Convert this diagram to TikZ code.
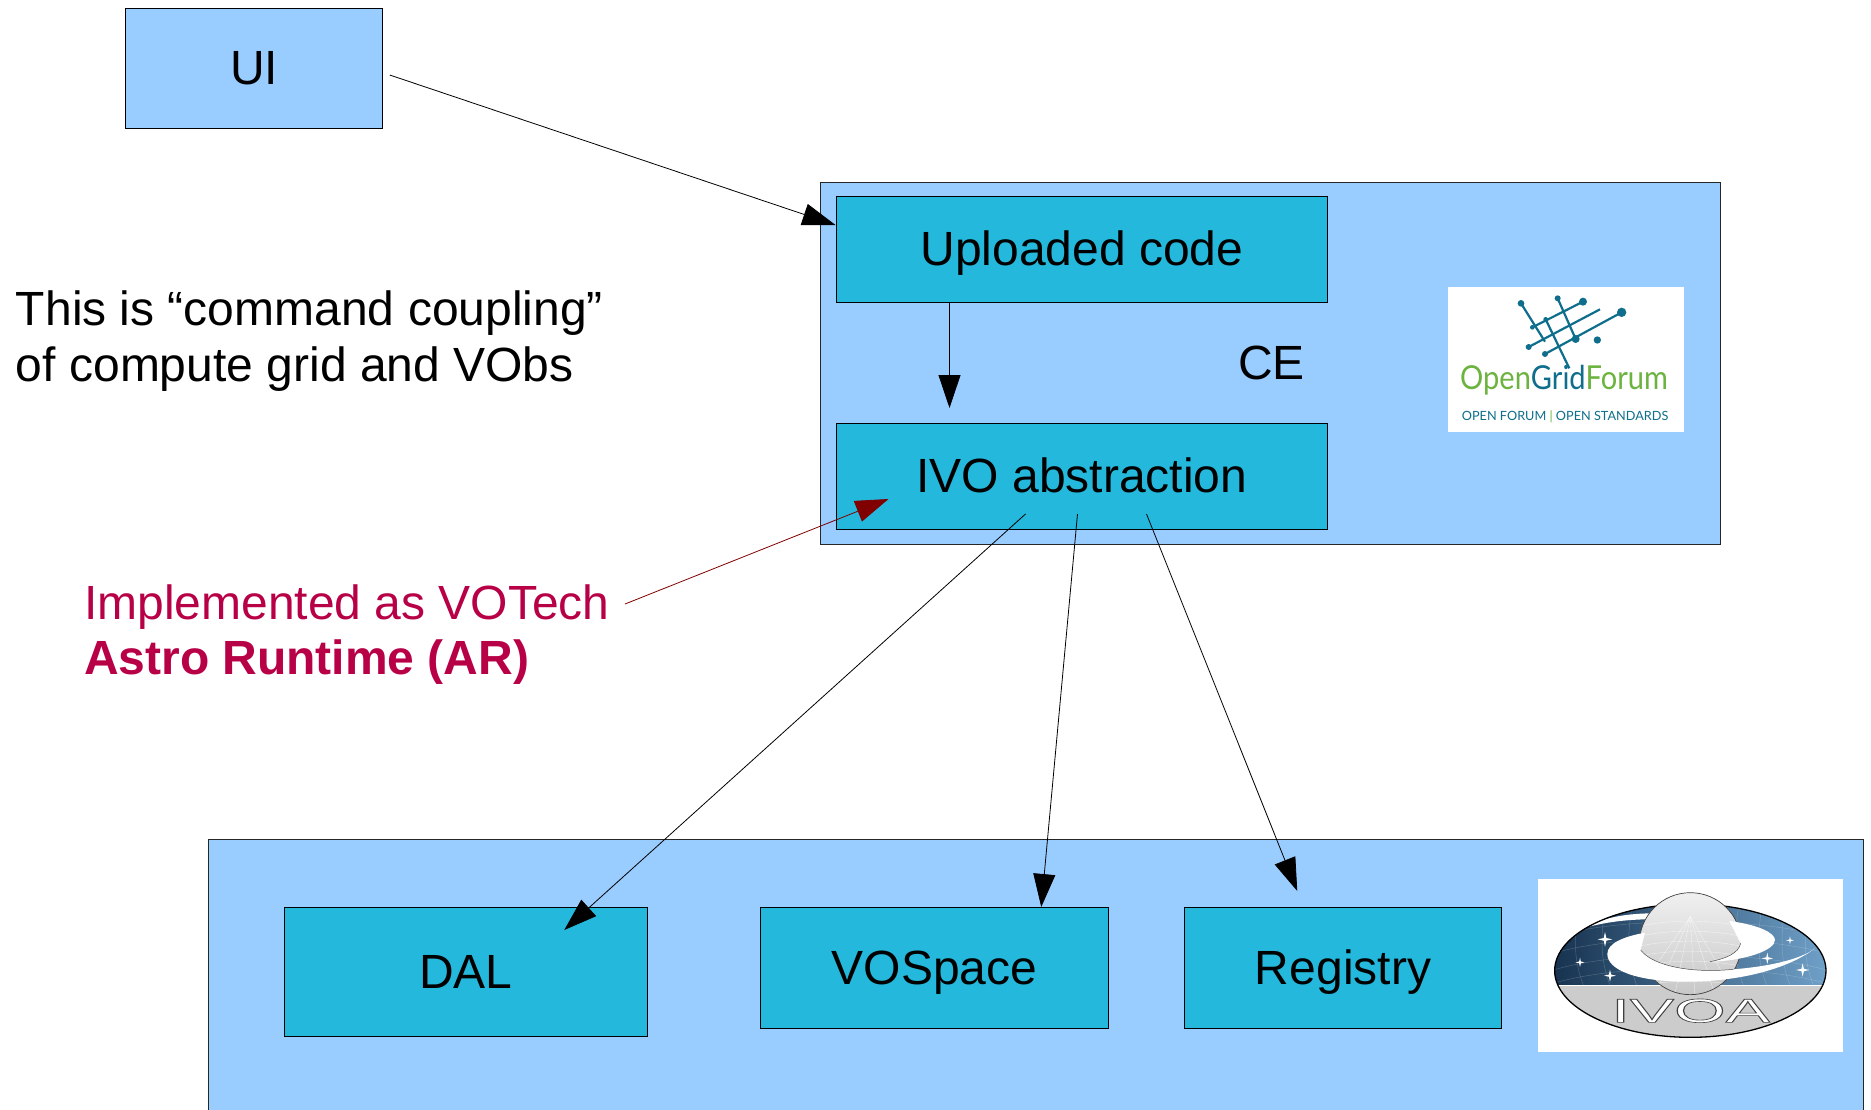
\documentclass[tikz,border=0pt]{standalone}
\usepackage{fontspec}
\setmainfont{Liberation Sans}
\newfontfamily\ogffont{Lato}
\usetikzlibrary{arrows.meta,shadings}
\definecolor{panelblue}{HTML}{99CCFF}
\definecolor{boxblue}{HTML}{23B8DC}
\definecolor{notered}{HTML}{B80047}
\definecolor{ogfgreen}{HTML}{6CB33F}
\definecolor{ogfblue}{HTML}{0F6E8C}
\definecolor{ivoadark}{HTML}{16324F}
\definecolor{ivoalight}{HTML}{6FA0C8}
\newcommand{\bigtext}{\fontsize{48}{55.5}\selectfont}
\tikzset{
  panel/.style={draw=black!85,line width=1pt,fill=panelblue,inner sep=0pt,outer sep=0pt},
  inbox/.style={draw=black,line width=1pt,fill=boxblue,inner sep=0pt,outer sep=0pt,
    font=\bigtext,text height=33pt,text depth=0pt},
  label/.style={font=\bigtext,inner sep=0pt,outer sep=0pt,anchor=base west,align=left},
  flow/.style={line width=.8pt,draw=black,-{Triangle[length=33pt,width=22pt]}},
  redflow/.style={line width=.8pt,draw=black!50!red,-{Triangle[length=33pt,width=22pt]}},
  ogfline/.style={draw=ogfblue,line width=2.2pt},
}
\newcommand{\fourstar}[3]{\fill[white] ({#1-#3},#2) -- ({#1-#3*.18},{#2-#3*.18}) -- (#1,{#2-#3}) -- ({#1+#3*.18},{#2-#3*.18}) -- ({#1+#3},#2) -- ({#1+#3*.18},{#2+#3*.18}) -- (#1,{#2+#3}) -- ({#1-#3*.18},{#2+#3*.18}) -- cycle;}
\begin{document}
\begin{tikzpicture}[x=1pt,y=-1pt]
\useasboundingbox (0,0) rectangle (1871,1109);
\clip (0,0) rectangle (1871,1109);
% panels
\node[panel,minimum width=900pt,minimum height=362pt] (ce) at (1270.7,363) {};
\node[panel,minimum width=1655pt,minimum height=280pt] (vo) at (1036.2,979) {};
% boxes
\node[inbox,fill=panelblue,minimum width=257.5pt,minimum height=120pt] (ui) at (254,68) {UI};
\node[inbox,minimum width=491pt,minimum height=106pt] (up) at (1082,249) {Uploaded code};
\node[inbox,minimum width=491pt,minimum height=106pt] (ivo) at (1082,476) {IVO abstraction};
\node[inbox,minimum width=363.5pt,minimum height=129pt] (dal) at (466,971.5) {DAL};
\node[inbox,minimum width=348.5pt,minimum height=121pt] (vospace) at (934.5,967.5) {VOSpace};
\node[inbox,minimum width=317.5pt,minimum height=121pt] (registry) at (1343,967.5) {Registry};
% labels
\node[label] (celabel) at (1238,379) {CE};
\node[label] (note) at (16,381) {This is “command coupling”\\of compute grid and VObs};
\node[label,text=notered] (impl) at (84,674.5) {Implemented as VOTech\\\textbf{Astro Runtime (AR)}};
% connectors
\draw[flow] ([xshift=7pt,yshift=-7pt]ui.east) -- ([xshift=-1pt,yshift=-29pt]up.north west);
\draw[flow] ([xshift=113pt]up.south west) -- ([xshift=113pt,yshift=15pt]ivo.north west);
\draw[flow] ([xshift=189pt,yshift=15pt]ivo.south west) -- ([xshift=280pt,yshift=-23pt]dal.north west);
\draw[flow] ([xshift=241pt,yshift=15pt]ivo.south west) -- ([xshift=281pt]vospace.north west);
\draw[flow] ([xshift=310pt,yshift=15pt]ivo.south west) -- ([xshift=113pt,yshift=16pt]registry.north west);
\draw[redflow] ([xshift=541pt,yshift=70.5pt]impl.base west) -- ([xshift=52pt,yshift=30pt]ivo.south west);
% Open Grid Forum logo
\begin{scope}[shift={(1430,270)},x=.3333pt,y=-.3333pt]
  \node[fill=white,inner sep=0pt,minimum width=236pt,minimum height=145pt] (ogfbg) at (408,268.5) {};
  \draw[ogfline] (273,100) -- (345,215);
  \draw[ogfline] (347,148) -- (418,295);
  \draw[ogfline] (383,85) -- (437,207);
  \draw[ogfline] (307,172) -- (459,95);
  \draw[ogfline] (296,231) -- (510,118);
  \draw[ogfline] (345,252) -- (575,127);
  \foreach \dx/\dy/\dr in {273/100/10,383/85/9,459/95/12,575/127/14,502/210/11,437/207/12,296/231/9,345/252/9,307/172/7,347/148/7}
    \fill[ogfblue] (\dx,\dy) circle[radius=\dr];
  \node[inner sep=0pt,anchor=base west,font=\ogffont\fontsize{33}{33}\selectfont,xscale=.88,transform shape] (ogfname) at (90,358) {\textcolor{ogfgreen}{Open}\textcolor{ogfblue}{Grid}\textcolor{ogfgreen}{Forum}};
  \node[inner sep=0pt,anchor=base west,font=\ogffont\fontsize{12.7}{14}\selectfont,text=ogfblue] (ogftag) at (95,452) {OPEN FORUM \textcolor{ogfgreen}{|} OPEN STANDARDS};
\end{scope}
% IVOA logo
\begin{scope}[shift={(1520,860)},x=.3333pt,y=-.3333pt]
  \node[fill=white,inner sep=0pt,minimum width=305pt,minimum height=173pt] (ivoabg) at (511,316.5) {};
  \begin{scope}
    \clip (511,332) ellipse[x radius=407,y radius=200];
    \shade[left color=ivoadark,right color=ivoalight] (100,120) rectangle (920,375);
    \fill[black!20] (100,375) rectangle (920,540);
    \draw[white,line width=1pt] (100,375) -- (920,375);
    \foreach \gx in {180,260,340,660,730,800,870}
      \draw[white,opacity=.2,line width=.5pt] (\gx,120) .. controls ({\gx-20},220) and ({\gx-20},300) .. ({\gx+10},375);
    \foreach \gy in {210,260,310,350}
      \draw[white,opacity=.2,line width=.5pt] (100,{\gy+20}) .. controls (300,{\gy-40}) and (700,{\gy-40}) .. (920,{\gy+20});
    \fill[white] (190,205) .. controls (250,170) and (330,160) .. (400,160) -- (375,178) .. controls (300,180) and (240,190) .. (190,205) -- cycle;
  \end{scope}
  \draw[black,line width=1.3pt] (511,332) ellipse[x radius=407,y radius=200];
  % sphere
  \shade[top color=black!6,bottom color=black!22] (511,251) circle[radius=153];
  \draw[black!75,line width=.7pt] (511,251) circle[radius=153];
  \begin{scope}
    \clip (511,251) circle[radius=152];
    \foreach \sx in {400,440,480,520,560,600}
      \draw[white,opacity=.6,line width=.4pt] (511,170) -- ({\sx+(\sx-511)*.6},420);
    \foreach \sy in {190,220,250,280,310,340,370}
      \draw[white,opacity=.6,line width=.4pt] (350,{\sy+10}) .. controls (450,{\sy-12}) and (570,{\sy-12}) .. (670,{\sy+10});
  \end{scope}
  % front of ring
  \fill[white] (885,265) .. controls (800,330) and (650,365) .. (500,365) .. controls (350,365) and (262,330) .. (262,282) .. controls (262,250) and (310,230) .. (375,218) -- (362,270) .. controls (400,320) and (520,340) .. (640,328) .. controls (740,320) and (840,300) .. (885,265) -- cycle;
  \draw[black!70,line width=.5pt] (362,270) .. controls (400,320) and (520,340) .. (640,328);
  \fill[white] (628,183) .. controls (720,195) and (765,220) .. (765,240) .. controls (765,270) and (680,302) .. (570,305) .. controls (620,295) and (655,280) .. (662,250) -- cycle;
  \draw[black!70,line width=.5pt] (570,305) .. controls (620,295) and (655,280) .. (662,250);
  \fourstar{255}{238}{22}
  \fourstar{180}{307}{14}
  \fourstar{270}{347}{18}
  \fourstar{810}{241}{12}
  \fourstar{742}{295}{17}
  \fourstar{848}{330}{20}
  \node[inner sep=0pt,anchor=base,font=\fontsize{33.5}{33.5}\selectfont,xscale=1.98,transform shape] (ivoaname) at (512,487) {\special{pdf:code q 2 Tr 0.6 w 0.25 G 1 g}IVOA\special{pdf:code Q}};
\end{scope}
\end{tikzpicture}
\end{document}
